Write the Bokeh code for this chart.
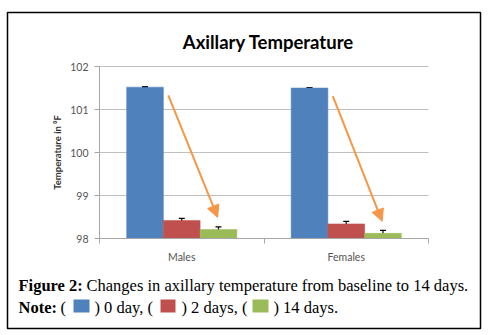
from bokeh.plotting import figure
from bokeh.models import (Label, BoxAnnotation, Whisker, TeeHead, Arrow, NormalHead,
                          FixedTicker, ColumnDataSource, Range1d)
from bokeh.embed import file_html
from bokeh.resources import INLINE

# ---- data ----
categories = ["Males", "Females"]
series = ["0 day", "2 days", "14 days"]
day0 = [101.52, 101.50]
day2 = [98.42, 98.34]
day14 = [98.21, 98.12]
err0 = [0.01, 0.01]
err2 = [0.05, 0.06]
err14 = [0.06, 0.07]
y_ticks = [98, 99, 100, 101, 102]
colors = ["#4F81BD", "#C0504D", "#9BBB59"]
arrow_color = "#F79646"

W, H = 491, 335
# outer box (canvas px) = plot frame
BL, BR, BT, BB = 7, 480, 12, 328
# chart area (canvas px)
CL, CR, CT, CB = 99, 428, 66, 238
n = len(categories)
ymin, ymax = y_ticks[0], y_ticks[-1]
xpx = (CR - CL) / n
ypx = (CB - CT) / (ymax - ymin)

p = figure(width=W, height=H, output_backend="svg", toolbar_location=None,
           x_range=Range1d(-(CL - BL) / xpx, n + (BR - CR) / xpx),
           y_range=Range1d(ymin - (BB - CB) / ypx, ymax + (CT - BT) / ypx),
           min_border_left=BL, min_border_right=W - BR,
           min_border_top=BT, min_border_bottom=H - BB)
p.title = None
p.outline_line_color = "black"
p.outline_line_width = 1.5
p.background_fill_color = "white"
p.border_fill_color = "white"

# grid (limited to the chart area)
p.xgrid.grid_line_color = None
p.ygrid.grid_line_color = None
p.segment(x0=[0] * (len(y_ticks) - 1), x1=[n] * (len(y_ticks) - 1),
          y0=y_ticks[1:], y1=y_ticks[1:], line_color="#c0c0c0", line_width=1)

# y axis
ya = p.yaxis[0]
ya.fixed_location = 0
ya.bounds = (ymin, ymax)
ya.ticker = FixedTicker(ticks=y_ticks)
ya.axis_line_color = "#a6a6a6"
ya.major_tick_line_color = "#a6a6a6"
ya.major_tick_out = 5
ya.major_tick_in = 0
ya.minor_tick_line_color = None
ya.major_label_text_font = "Lato"
ya.major_label_text_font_size = "10.5px"
ya.major_label_text_color = "#555555"
ya.major_label_standoff = 6
ya.axis_label = "Temperature in \u2070F"
ya.axis_label_text_font = "Lato"
ya.axis_label_text_font_size = "9.5px"
ya.axis_label_text_font_style = "bold"
ya.axis_label_text_color = "#333333"
ya.axis_label_standoff = 4

# x axis: labels at category centers, tick marks between categories
centers = [i + 0.5 for i in range(n)]
xa = p.xaxis[0]
xa.fixed_location = ymin
xa.bounds = (0, n)
xa.ticker = FixedTicker(ticks=centers, minor_ticks=list(range(n + 1)))
xa.major_label_overrides = {c: name for c, name in zip(centers, categories)}
xa.major_tick_line_color = None
xa.minor_tick_line_color = "#a6a6a6"
xa.minor_tick_out = 5
xa.minor_tick_in = 0
xa.axis_line_color = "#a6a6a6"
xa.major_label_text_font = "Lato"
xa.major_label_text_font_size = "10.5px"
xa.major_label_text_color = "#555555"
xa.major_label_standoff = 6

# bars
bw = 0.2233
offsets = [-bw, 0.0, bw]
for vals, errs, off, col in zip([day0, day2, day14], [err0, err2, err14], offsets, colors):
    xs = [c + off for c in centers]
    src = ColumnDataSource(dict(x=xs, top=vals,
                                upper=[v + e for v, e in zip(vals, errs)],
                                lower=[v - e for v, e in zip(vals, errs)]))
    p.vbar(x="x", top="top", bottom=ymin, width=bw, source=src,
           fill_color=col, line_color=col, line_width=0.5)
    w = Whisker(base="x", upper="upper", lower="lower", source=src,
                line_color="black", line_width=1.2,
                upper_head=TeeHead(size=6, line_color="black", line_width=1.2),
                lower_head=TeeHead(size=6, line_color="black", line_width=1.2))
    p.add_layout(w)

# trend arrows from first to last series
for c, v0, v2 in zip(centers, day0, day14):
    x_start = c + offsets[0] + bw / 2 + 0.03
    x_end = c + offsets[2] - 0.005
    p.add_layout(Arrow(x_start=x_start, y_start=v0 - 0.19,
                       x_end=x_end, y_end=v2 + 0.28,
                       line_color=arrow_color, line_width=2,
                       end=NormalHead(size=12, fill_color=arrow_color,
                                      line_color=arrow_color)))

# screen helpers (relative to frame bottom-left)
def sx(x):
    return x - BL

def sy(y):
    return BB - y

# title
p.add_layout(Label(x=sx(268), y=sy(41.5), x_units="screen", y_units="screen",
                   text="Axillary Temperature", text_font="Lato",
                   text_font_size="18.5px", text_font_style="bold",
                   text_align="center", text_baseline="alphabetic", text_color="black"))

# caption
cap_font = "Liberation Serif"
cap_size = "16.5px"

def cap(x, y, t, bold=False):
    p.add_layout(Label(x=sx(x), y=sy(y), x_units="screen", y_units="screen",
                       text=t, text_font=cap_font, text_font_size=cap_size,
                       text_font_style="bold" if bold else "normal",
                       text_align="left", text_baseline="alphabetic", text_color="black"))

cap(18, 284.5, "Figure 2:", bold=True)
cap(86, 284.5, "Changes in axillary temperature from baseline to 14 days.")
cap(18, 306.5, "Note:", bold=True)
cap(60, 306.5, "(")
cap(94, 306.5, ") 0 day, (")
cap(181, 306.5, ") 2 days, (")
cap(273, 306.5, ") 14 days.")

for (l, r), col in zip([(73, 89), (160, 175), (252, 268)], colors):
    p.add_layout(BoxAnnotation(left=sx(l), right=sx(r), top=sy(299), bottom=sy(312),
                               left_units="screen", right_units="screen",
                               top_units="screen", bottom_units="screen",
                               fill_color=col, fill_alpha=1, line_color=None))

open("out.html", "w").write(file_html(p, INLINE))
